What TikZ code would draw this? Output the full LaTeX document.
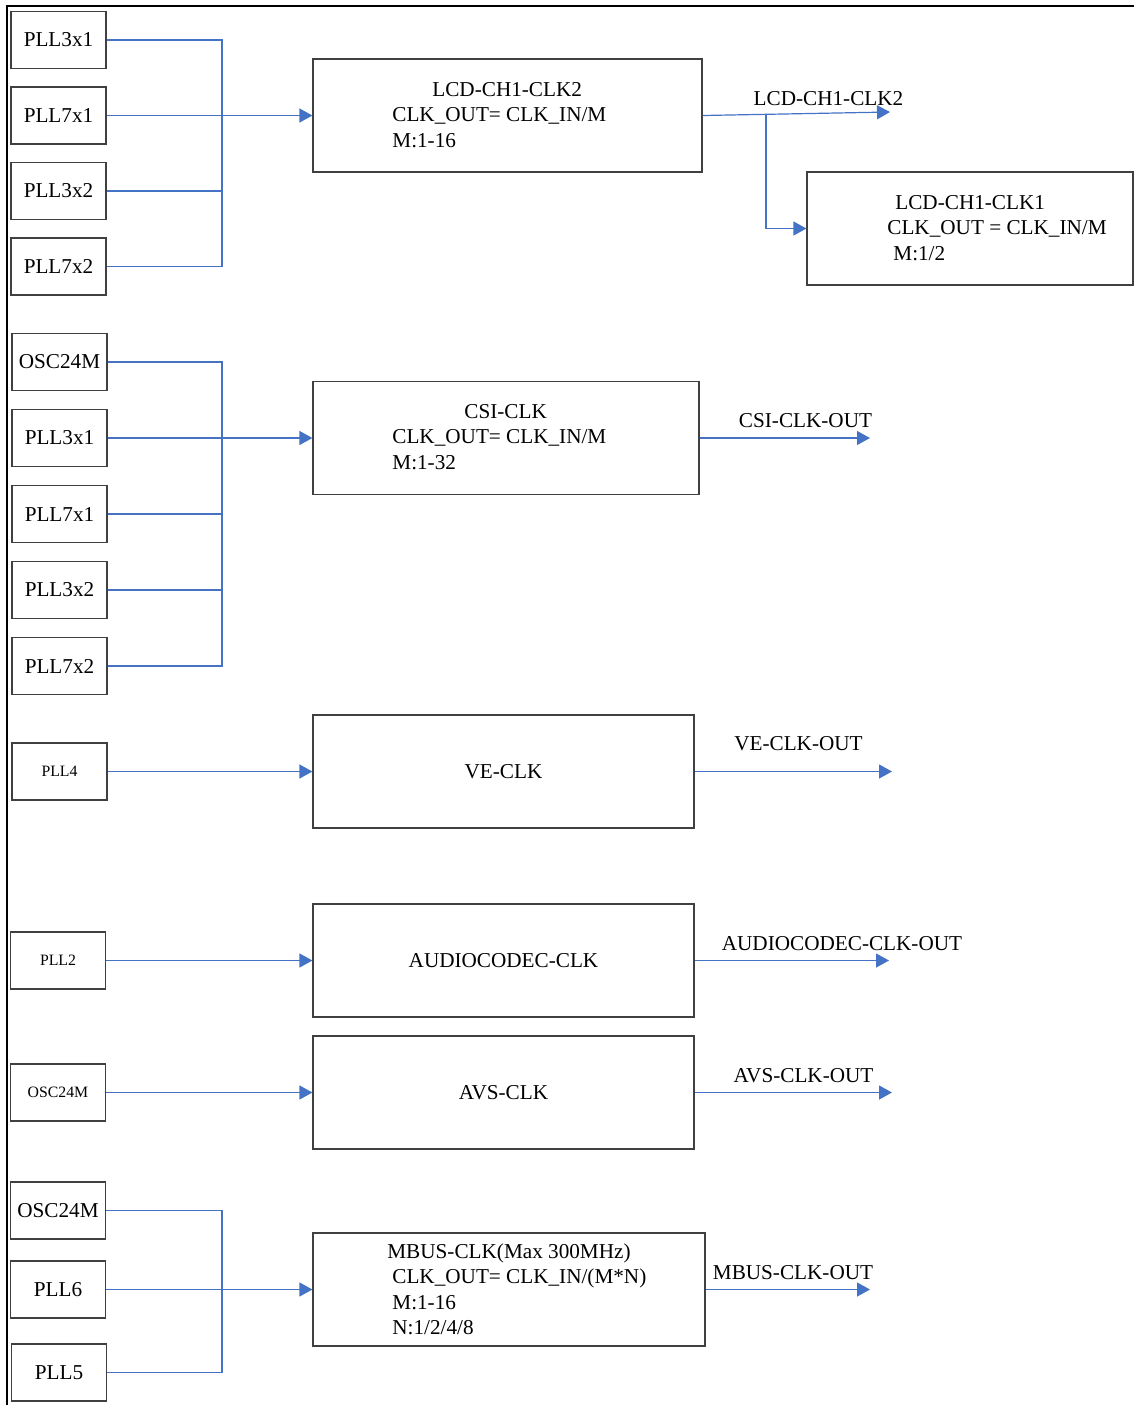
\documentclass[tikz,border=0pt]{standalone}
\usepackage{fontspec}
\setmainfont{Liberation Serif}
\usetikzlibrary{arrows.meta,positioning}
\definecolor{wireblue}{RGB}{68,114,196}

\begin{document}
\begin{tikzpicture}[x=0.5pt,y=-0.5pt,
  font=\fontsize{10.6}{12.75}\selectfont,
  src/.style={draw=black!75,line width=0.6pt,minimum width=47.5pt,minimum height=28.5pt,
              inner sep=0pt},
  srcsm/.style={src,font=\fontsize{7.9}{9.5}\selectfont},
  clkbox/.style={draw=black!75,line width=0.6pt,minimum height=56.5pt,inner sep=0pt},
  txt/.style={anchor=west,align=left,inner sep=0pt},
  wire/.style={draw=wireblue,line width=0.6pt},
  ar/.style={wire,-{Triangle[length=6.5pt,width=7pt]}}]

\useasboundingbox (0,0) rectangle (1134,1405);
\draw[line width=1pt] (7,1405) -- (7,6) -- (1134,6);

% LCD channel 1
\node[src] (lcdpa) at (58.5,40) {PLL3x1};
\node[src,below=8.65pt of lcdpa] (lcdpb) {PLL7x1};
\node[src,below=8.65pt of lcdpb] (lcdpc) {PLL3x2};
\node[src,below=8.65pt of lcdpc] (lcdpd) {PLL7x2};
\node[clkbox,minimum width=194.5pt] (lcdtwo) at (507.5,115.5) {};
\node[txt] (lcdtwotxt) at (392,115) {\hspace*{20pt}LCD-CH1-CLK2\\CLK\_OUT= CLK\_IN/M\\M:1-16};
\node[clkbox,minimum width=163pt] (lcdone) at (970,228.5) {};
\node[txt] (lcdonetxt) at (887,228) {\hspace*{4pt}LCD-CH1-CLK1\\CLK\_OUT = CLK\_IN/M\\\hspace*{3pt}M:1/2};
\coordinate (lcdbus) at (222,115.5);
\coordinate (lcdsplit) at (766,114.5);
\coordinate (lcdout) at (890,112);
\node (lcdlbl) at (828.5,99) {LCD-CH1-CLK2};

\draw[wire] (lcdpa.east) -| (lcdbus);
\draw[wire] (lcdpc.east) -| (lcdbus);
\draw[wire] (lcdpd.east) -| (lcdbus);
\draw[ar] (lcdpb.east) -- (lcdtwo.west);
\draw[ar] (lcdtwo.east) -- (lcdout);
\draw[ar] (lcdsplit) |- (lcdone.west);

% CSI
\node[src] (csipa) at (59.5,362) {OSC24M};
\node[src,below=8.9pt of csipa] (csipb) {PLL3x1};
\node[src,below=8.9pt of csipb] (csipc) {PLL7x1};
\node[src,below=8.9pt of csipc] (csipd) {PLL3x2};
\node[src,below=8.9pt of csipd] (csipe) {PLL7x2};
\node[clkbox,minimum width=193pt] (csi) at (506,438) {};
\node[txt] (csitxt) at (392,437) {\hspace*{36pt}CSI-CLK\\CLK\_OUT= CLK\_IN/M\\M:1-32};
\coordinate (csibus) at (222,438);
\coordinate (csiout) at (870,438);
\node (csilbl) at (805.5,421) {CSI-CLK-OUT};

\draw[wire] (csipa.east) -| (csibus);
\draw[wire] (csipc.east) -| (csibus);
\draw[wire] (csipd.east) -| (csibus);
\draw[wire] (csipe.east) -| (csibus);
\draw[ar] (csipb.east) -- (csi.west);
\draw[ar] (csi.east) -- (csiout);

% VE
\node[srcsm] (vesrc) at (59.5,771.5) {PLL4};
\node[clkbox,minimum width=190.5pt] (ve) at (503.5,771.5) {VE-CLK};
\coordinate (veout) at (892,771.5);
\node (velbl) at (798.5,744) {VE-CLK-OUT};
\draw[ar] (vesrc.east) -- (ve.west);
\draw[ar] (ve.east) -- (veout);

% audio codec
\node[srcsm] (acsrc) at (58,960.5) {PLL2};
\node[clkbox,minimum width=190.5pt] (ac) at (503.5,960.5) {AUDIOCODEC-CLK};
\coordinate (acout) at (889,960.5);
\node (aclbl) at (842,944) {AUDIOCODEC-CLK-OUT};
\draw[ar] (acsrc.east) -- (ac.west);
\draw[ar] (ac.east) -- (acout);

% AVS
\node[srcsm] (avssrc) at (58,1092.5) {OSC24M};
\node[clkbox,minimum width=190.5pt] (avs) at (503.5,1092.5) {AVS-CLK};
\coordinate (avsout) at (892,1092.5);
\node (avslbl) at (803.5,1076) {AVS-CLK-OUT};
\draw[ar] (avssrc.east) -- (avs.west);
\draw[ar] (avs.east) -- (avsout);

% MBUS
\node[src] (mbpa) at (58,1210.5) {OSC24M};
\node[src] (mbpb) at (58,1289.5) {PLL6};
\node[src] (mbpc) at (59,1372.5) {PLL5};
\node[clkbox,minimum width=196pt] (mbus) at (509,1289.5) {};
\node[txt] (mbustxt) at (387,1289.5) {MBUS-CLK(Max 300MHz)\\\hspace*{2.5pt}CLK\_OUT= CLK\_IN/(M*N)\\
  \hspace*{2.5pt}M:1-16\\\hspace*{2.5pt}N:1/2/4/8};
\coordinate (mbbus) at (222,1289.5);
\coordinate (mbout) at (870,1289.5);
\node (mblbl) at (793,1273) {MBUS-CLK-OUT};

\draw[wire] (mbpa.east) -| (mbbus);
\draw[wire] (mbpc.east) -| (mbbus);
\draw[ar] (mbpb.east) -- (mbus.west);
\draw[ar] (mbus.east) -- (mbout);
\end{tikzpicture}
\end{document}
